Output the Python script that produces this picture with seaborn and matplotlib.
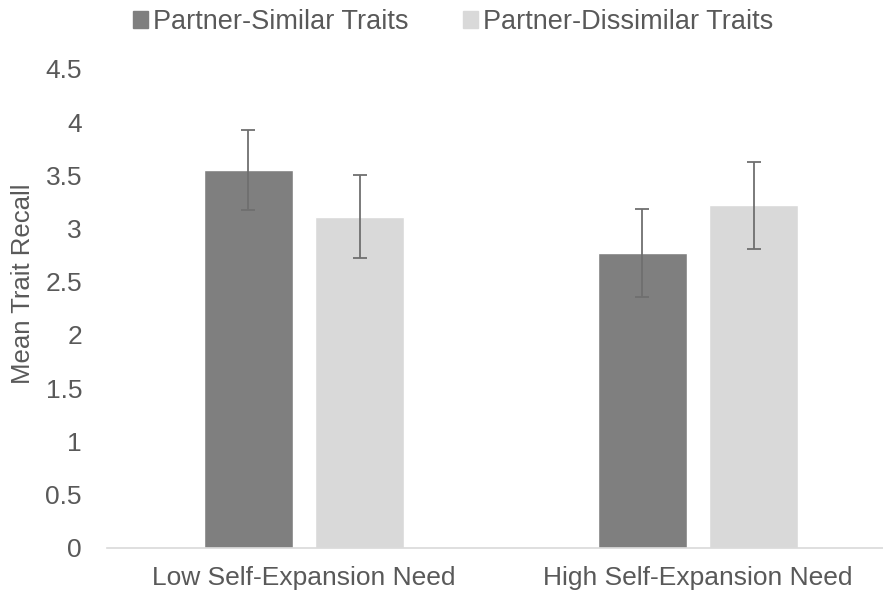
import numpy as np
import pandas as pd
import matplotlib
matplotlib.use("Agg")
import matplotlib.pyplot as plt
import seaborn as sns

# Data
groups = ["Low Self-Expansion Need", "High Self-Expansion Need"]
series = ["Partner-Similar Traits", "Partner-Dissimilar Traits"]
similar_means = [3.55, 2.77]
dissimilar_means = [3.11, 3.22]
similar_err = [0.38, 0.41]
dissimilar_err = [0.39, 0.41]
y_ticks = [0, 0.5, 1, 1.5, 2, 2.5, 3, 3.5, 4, 4.5]

colors = ["#7f7f7f", "#d9d9d9"]
text_color = "#595959"

df = pd.DataFrame({
    "group": groups * 2,
    "series": [series[0]] * 2 + [series[1]] * 2,
    "mean": similar_means + dissimilar_means,
    "err": similar_err + dissimilar_err,
})

sns.set_style("white")
plt.rcParams["font.family"] = ["Liberation Sans", "DejaVu Sans"]

fig = plt.figure(figsize=(8.83, 5.97), dpi=100)
ax = fig.add_axes([107 / 883, 49.5 / 597, 1 - 107 / 883, (547.5 - 69) / 597])

sns.barplot(data=df, x="group", y="mean", hue="series", order=groups,
            hue_order=series, palette=colors, width=0.566, gap=0.2,
            errorbar=None, saturation=1, ax=ax, legend=False)

# error bars at the centre of each bar
for i, s in enumerate(series):
    sub = df[df["series"] == s].set_index("group").loc[groups]
    cont = ax.containers[i]
    xs = [p.get_x() + p.get_width() / 2 for p in cont.patches]
    ax.errorbar(xs, sub["mean"], yerr=sub["err"], fmt="none",
                ecolor="#6f6f6f", elinewidth=1.3, capsize=5, capthick=1.3)

ax.set_ylim(0, 4.5)
ax.set_xlim(-0.5, 1.4695)
ax.set_yticks(y_ticks)
ax.set_yticklabels([f"{t:g}" for t in y_ticks])
ax.tick_params(axis="y", length=0, pad=18, labelsize=19, labelcolor=text_color)
ax.tick_params(axis="x", length=0, pad=13, labelsize=19, labelcolor=text_color)
ax.set_xlabel("")
ax.set_ylabel("")
fig.text(23 / 883, 1 - 283.5 / 597, "Mean Trait Recall", rotation=90,
         ha="center", va="center", fontsize=18.5, color=text_color)

for side in ["top", "right", "left"]:
    ax.spines[side].set_visible(False)
ax.spines["bottom"].set_color("#d9d9d9")
ax.spines["bottom"].set_linewidth(1.2)

handles = [plt.Rectangle((0, 0), 1, 1, color=c) for c in colors]
fig.legend(handles, series, loc="center", bbox_to_anchor=(0.513, 1 - 22 / 597),
           ncol=2, frameon=False, fontsize=19.5, handlelength=0.55,
           handleheight=0.55, handletextpad=0.2, columnspacing=2.0,
           labelcolor=text_color)

fig.savefig("out.png", dpi=100)
